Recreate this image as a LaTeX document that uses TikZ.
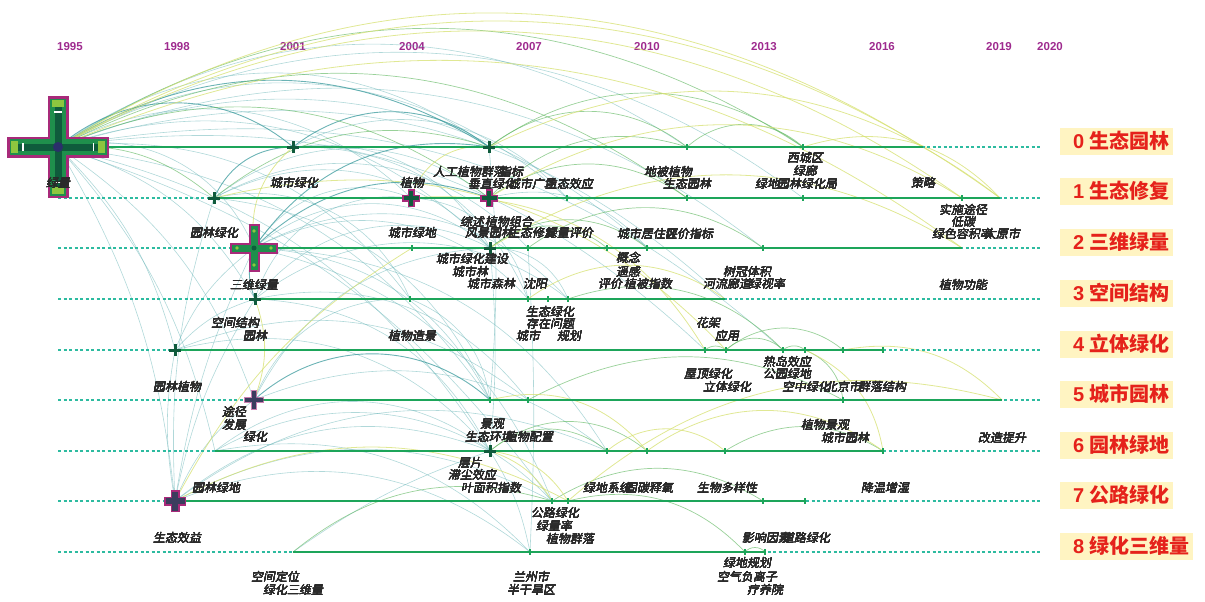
\documentclass[tikz,border=0pt]{standalone}
\usepackage{fontspec}
\setmainfont{Liberation Sans}
\newfontfamily\cjk[FakeSlant=0.18]{Noto Sans CJK SC}
\newfontfamily\cjkup{Noto Sans CJK SC}
\definecolor{yrc}{HTML}{9E2A8E}
\definecolor{kwc}{HTML}{2A2A2A}
\definecolor{clubg}{HTML}{FFF4C2}
\definecolor{clur}{HTML}{E5221B}
\definecolor{dashc}{HTML}{2DBBA0}
\definecolor{solc}{HTML}{1DA55A}
\definecolor{arct}{HTML}{6FB8BA}
\definecolor{arcd}{HTML}{3A9A9C}
\definecolor{arcg}{HTML}{62B862}
\definecolor{arcy}{HTML}{D6E070}
\definecolor{magc}{HTML}{A82A7A}
\definecolor{crg}{HTML}{1F8F4C}
\definecolor{crd}{HTML}{0F5B3C}
\definecolor{crl}{HTML}{8DC63F}
\definecolor{navyc}{HTML}{2B2F6B}
\definecolor{slatec}{HTML}{3B3D5E}
\newcommand\kcross[4]{\draw[line width=#3pt,#4] ([xshift=-#2pt]#1) -- ([xshift=#2pt]#1) ([yshift=-#2pt]#1) -- ([yshift=#2pt]#1);}
\begin{document}
\begin{tikzpicture}[x=1pt,y=-1pt,
  yr/.style={font=\bfseries\fontsize{11.5}{13}\selectfont, text=yrc},
  kw/.style={font=\cjk\fontsize{12}{13}\selectfont, text=kwc, inner sep=0pt},
  clu/.style={fill=clubg, minimum height=27pt, inner xsep=3pt, inner ysep=0pt, anchor=east, font=\bfseries\fontsize{20}{22}\selectfont, text=clur},
  dashln/.style={draw=dashc, line width=1.2pt, dash pattern=on 3pt off 2.5pt},
  solln/.style={draw=solc, line width=2.8pt},
  arcT/.style={draw=arct, line width=0.6pt, opacity=0.55},
  arcD/.style={draw=arcd, line width=0.9pt, opacity=0.75},
  arcG/.style={draw=arcg, line width=0.7pt, opacity=0.65},
  arcY/.style={draw=arcy, line width=0.8pt, opacity=0.75},
  tickm/.style={draw=solc, line width=1.4pt}]
\useasboundingbox (0,0) rectangle (1205,602);
% ---------- points on the timelines ----------
\foreach \n/\x in {A0/58,A1/293,A2/489,A3/687,A4/803,A5/923} \coordinate (\n) at (\x,147);
\foreach \n/\x in {B0/214,B1/411,B2/489,B3/567,B4/687,B5/803,B6/962,B7/1000} \coordinate (\n) at (\x,198);
\foreach \n/\x in {C0/254,C1/412,C2/490,C3/528,C4/607,C5/647,C6/763,C7/962} \coordinate (\n) at (\x,248);
\foreach \n/\x in {D0/255,D1/410,D2/528,D3/548,D4/568,D5/725} \coordinate (\n) at (\x,299);
\foreach \n/\x in {E0/175,E1/705,E2/726,E3/783,E4/805,E5/843,E6/883} \coordinate (\n) at (\x,350);
\foreach \n/\x in {F0/254,F1/490,F2/528,F3/843,F4/1002} \coordinate (\n) at (\x,400);
\foreach \n/\x in {G0/215,G1/490,G2/607,G3/647,G4/725,G5/883} \coordinate (\n) at (\x,451);
\foreach \n/\x in {H0/175,H1/552,H2/568,H3/763,H4/805} \coordinate (\n) at (\x,501);
\foreach \n/\x in {I0/293,I1/530,I2/745,I3/765} \coordinate (\n) at (\x,552);
\foreach \r/\y in {0/147,1/198,2/248,3/299,4/350,5/400,6/451,7/501,8/552} {
  \coordinate (R\r l) at (58,\y); \coordinate (R\r r) at (1042,\y);}
% ---------- year labels ----------
\foreach \yy/\xx in {1995/70,1998/177,2001/293,2004/412,2007/529,2010/647,2013/764,2016/882,2019/999,2020/1050}
  \node[yr] (y\yy) at (\xx,47) {\yy};
% ---------- co-occurrence arcs ----------
\begin{scope}
\clip (0,0) rectangle (1205,602);
\foreach \s/\t/\b in {A0/A2/36,A0/A3/34,A0/D1/30,A0/C2/32,A0/F1/24,A0/G1/22,A0/B1/36,A0/C0/40,A0/E1/26,A0/C6/30,
  B0/B2/38,B0/D1/40,C0/B1/40,C0/C2/40,C0/D2/38,C0/F1/30,D0/B1/40,D0/C2/40,D0/D4/38,F0/D1/35,F0/C2/30,
  G0/G1/38,G0/H1/38,H0/B0/10,H0/C0/8,H0/D0/10,A0/H0/12,H0/E0/10,H0/F0/15,H0/G1/30,H0/I1/30,I0/G1/8,C3/I1/3,
  A2/F1/5,C2/G1/5,G1/I1/10,A1/C2/34,B1/D2/38,D1/F1/30,E0/C0/15,E0/D0/15,B2/C5/32,C2/D4/34,A0/H1/18,B0/F1/30,
  E0/F2/30,G0/I1/28,H0/H1/28,D0/G1/30,C0/G2/28,A0/E0/15,A0/D0/22,A0/F0/18,A0/G0/14,B0/C2/38,A1/D2/34,C0/H1/28,
  A0/B5/33,A0/C5/32,A0/D5/30,A0/E3/26,A0/B3/36,B0/C3/38,C0/D4/38,D0/F2/32,F0/G2/30,E0/G1/32,H0/G2/30,A1/B3/38}
  \draw[arcT] (\s) to[bend left=\b] (\t);
\foreach \s/\t/\b in {A0/A1/40,A1/A2/38,B0/A1/32,C0/A2/32,C0/B2/32,F0/F1/42,A0/A2/32,D0/C0/20}
  \draw[arcD] (\s) to[bend left=\b] (\t);
\foreach \s/\t/\b in {A0/B2/30,A2/A3/38,A2/A4/36,A3/A4/42,B2/A3/32,C2/C5/38,E1/E2/40,E2/E3/45,E2/E5/40,E3/E4/40,
  E4/F3/30,F2/F3/28,G1/G2/40,G1/G3/40,H1/H3/32,H2/I2/30,I0/H1/28,I2/I3/50,A0/B0/22,B0/A2/28,D4/E3/32,G4/G5/32,
  A0/A4/33,C2/C4/40,A0/B4/32,B2/B4/36,C3/C6/36}
  \draw[arcG] (\s) to[bend left=\b] (\t);
\foreach \s/\t/\b in {A0/B7/33,A0/A5/32,A2/B7/32,B2/B6/32,C2/C7/32,A4/B7/32,D2/D5/36,E5/F4/28,G2/G4/40,G3/G5/36,
  G1/H1/20,G1/H2/25,H0/H2/28,B1/A2/40,C0/A1/28,H0/C1/15,D0/F0/20,H2/F4/28,E4/G5/28,F1/G3/32,A0/C7/30,B1/E1/32,
  A0/B6/32,B0/E2/30}
  \draw[arcY] (\s) to[bend left=\b] (\t);
\end{scope}
% ---------- timelines ----------
\foreach \r in {0,...,8} \draw[dashln] (R\r l) -- (R\r r);
\foreach \s/\t in {A0/A5,B0/B7,C0/C7,D0/D5,E0/E6,F0/F4,G0/G5,H0/H4,I0/I3}
  \draw[solln] (\s) -- (\t);
\foreach \p in {A3,A4,B3,B4,B5,B6,C1,C3,C4,C5,C6,D1,D2,D3,D4,E1,E2,E3,E4,E5,F1,F2,F3,G2,G3,G4,H1,H2,H3,I1,I2,I3,E6,G5,H4}
  \draw[tickm] ([yshift=3pt]\p) -- ([yshift=-3pt]\p);
% ---------- crosses ----------
\kcross{A0}{51}{21}{draw=magc}
\kcross{A0}{48.5}{16}{draw=crg}
\kcross{A0}{43}{7}{draw=crd}
\fill[crl] ([xshift=-47pt,yshift=-6pt]A0) rectangle ([xshift=-40pt,yshift=6pt]A0);
\fill[crl] ([xshift=40pt,yshift=-6pt]A0) rectangle ([xshift=47pt,yshift=6pt]A0);
\fill[crl] ([xshift=-6pt,yshift=-47pt]A0) rectangle ([xshift=6pt,yshift=-40pt]A0);
\fill[crl] ([xshift=-6pt,yshift=40pt]A0) rectangle ([xshift=6pt,yshift=47pt]A0);
\fill[white] ([xshift=-36pt,yshift=-4pt]A0) rectangle ([xshift=-34.5pt,yshift=4pt]A0);
\fill[white] ([xshift=34.5pt,yshift=-4pt]A0) rectangle ([xshift=36pt,yshift=4pt]A0);
\fill[white] ([xshift=-4pt,yshift=-36pt]A0) rectangle ([xshift=4pt,yshift=-34.5pt]A0);
\fill[white] ([xshift=-4pt,yshift=34.5pt]A0) rectangle ([xshift=4pt,yshift=36pt]A0);
\fill[navyc] (A0) circle (5pt);
\kcross{C0}{24}{11}{draw=magc}
\kcross{C0}{22}{7}{draw=crg}
\foreach \dx/\dy in {-17/0,17/0,0/-17,0/17} \fill[crl] ([xshift=\dx pt,yshift=\dy pt]C0) circle (1.8pt);
\fill[crd] (C0) circle (2.5pt);
\kcross{B1}{9}{7}{draw=magc}
\kcross{B1}{7.5}{4}{draw=crd}
\kcross{B2}{9}{7}{draw=magc}
\kcross{B2}{7.5}{4}{draw=crd}
\kcross{H0}{11}{9}{draw=magc}
\kcross{H0}{9.5}{6}{draw=slatec}
\kcross{F0}{10}{6}{draw=magc,opacity=0.6}
\kcross{F0}{9}{4}{draw=slatec}
\foreach \p in {A1,A2,C2,D0,E0,B0,G1}
  \kcross{\p}{6}{3}{draw=crd}
% ---------- keyword labels ----------
\foreach \n/\x/\y/\a/\t in {1/58/183/center/绿量,2/294/183/center/城市绿化,3/412/183/center/植物,4/668/172/center/地被植物,5/687/184/center/生态园林,
  6/805/158/center/西城区,7/805/171/center/绿廊,8/923/183/center/策略,9/963/210/center/实施途径,10/963/222/center/低碳,11/963/285/center/植物功能,
  12/214/233/center/园林绿化,13/412/233/center/城市绿地,14/472/259/center/城市绿化建设,15/470/272/center/城市林,16/628/258/center/概念,
  17/628/272/center/遥感,18/747/272/center/树冠体积,19/254/285/center/三维绿量,20/235/323/center/空间结构,21/255/336/center/园林,
  22/412/336/center/植物造景,23/550/312/center/生态绿化,24/550/324/center/存在问题,25/528/336/center/城市,26/569/336/center/规划,
  27/708/323/center/花架,28/727/336/center/应用,29/177/387/center/园林植物,30/708/374/center/屋顶绿化,31/727/387/center/立体绿化,
  32/787/362/center/热岛效应,33/787/374/center/公园绿地,34/234/412/center/途径,35/234/425/center/发展,36/255/437/center/绿化,
  37/492/424/center/景观,38/825/425/center/植物景观,39/845/438/center/城市园林,40/1002/438/center/改造提升,41/470/463/center/层片,
  42/472/475/center/滞尘效应,43/491/488/center/叶面积指数,44/216/488/center/园林绿地,45/727/488/center/生物多样性,46/885/488/center/降温增湿,
  47/555/513/center/公路绿化,48/554/526/center/绿量率,49/570/539/center/植物群落,50/177/538/center/生态效益,51/275/577/center/空间定位,
  52/293/590/center/绿化三维量,53/531/577/center/兰州市,54/531/590/center/半干旱区,55/747/563/center/绿地规划,56/747/577/center/空气负离子,
  57/765/590/center/疗养院,
  58/433/172/west/人工植物群落,59/499/172/west/指标,60/468/184/west/垂直绿化,61/508/184/west/城市广场,
  62/545/184/west/生态效应,63/755/184/west/绿地,64/777/184/west/园林绿化局,65/932/234/west/绿色容积率,66/984/234/west/太原市,
  67/460/222/west/综述,68/485/222/west/植物组合,69/465/233/west/风景园林,70/508/233/west/生态修复,71/545/233/west/绿量评价,
  72/617/234/west/城市居住区,73/665/234/west/评价指标,74/467/284/west/城市森林,75/523/284/west/沈阳,76/598/284/west/评价,
  77/624/284/west/植被指数,78/703/284/west/河流廊道,79/749/284/west/绿视率,80/782/387/west/空中绿化,81/825/387/west/北京市,
  82/858/387/west/群落结构,83/465/437/west/生态环境,84/505/437/west/植物配置,85/583/488/west/绿地系统,86/625/488/west/固碳释氧,
  87/742/538/west/影响因素,88/782/538/west/道路绿化}
  \node[kw,anchor=\a] (k\n) at (\x,\y) {\t};
% ---------- cluster labels ----------
\node[clu] (cl0) at (1173,141) {\hspace*{10pt}0 {\cjkup 生态园林}};
\node[clu] (cl1) at (1173,191) {\hspace*{10pt}1 {\cjkup 生态修复}};
\node[clu] (cl2) at (1173,242) {\hspace*{10pt}2 {\cjkup 三维绿量}};
\node[clu] (cl3) at (1173,293) {\hspace*{10pt}3 {\cjkup 空间结构}};
\node[clu] (cl4) at (1173,344) {\hspace*{10pt}4 {\cjkup 立体绿化}};
\node[clu] (cl5) at (1173,394) {\hspace*{10pt}5 {\cjkup 城市园林}};
\node[clu] (cl6) at (1173,445) {\hspace*{10pt}6 {\cjkup 园林绿地}};
\node[clu] (cl7) at (1173,495) {\hspace*{10pt}7 {\cjkup 公路绿化}};
\node[clu] (cl8) at (1193,546) {\hspace*{10pt}8 {\cjkup 绿化三维量}};
\end{tikzpicture}
\end{document}
